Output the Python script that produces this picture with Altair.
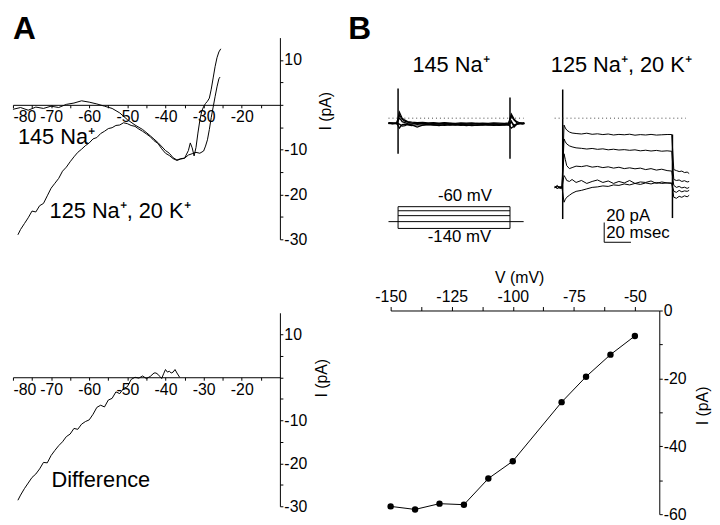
import altair as alt
import pandas as pd

FONT = "Liberation Sans"
W, H = 712, 517

# ---------------- Panel A (top): I-V ramps ----------------
a_na_v = [-80, -78, -76, -74, -72, -70, -68, -66, -64, -62, -60, -58, -56, -54, -52, -50, -48, -46, -44, -42,
          -40, -39, -38, -37, -36, -35, -34, -33.5, -33, -32.5, -32, -31.5, -31, -30.5, -30, -29.5, -29, -28.5,
          -28, -27.5, -27, -26.5, -26, -25.5]
a_na_i = [-1.0, -0.6, -1.2, -0.5, -0.8, -0.3, -0.6, 0.1, 0.4, 0.9, 0.6, 0.2, -0.3, -0.8, -1.8, -3.3, -4.5, -5.5,
          -6.9, -8.4, -10.2, -10.8, -11.8, -12.3, -12.0, -11.9, -10.2, -8.5, -9.6, -11.4, -9.5, -6.3, -3.5, -1.4,
          -0.4, 0.3, 0.8, 1.5, 3.5, 6.0, 8.5, 10.5, 11.8, 12.5]

a_k_v = [-78.7, -78, -77, -76, -75, -74, -73, -72, -71, -70, -69, -68, -67, -66, -65, -64, -63, -62, -61, -60,
         -59, -58, -57, -56, -55, -54, -53, -52, -51, -50, -49, -48, -47, -46, -45, -44, -43, -42, -41, -40,
         -39, -38, -37, -36, -35, -34, -33, -32, -31, -30, -29.5, -29, -28.5, -28, -27.5, -27, -26.5, -26, -25.7]
a_k_i = [-29.0, -27.8, -26.5, -25.2, -23.7, -23.9, -22.5, -22.0, -20.3, -18.6, -17.5, -16.4, -14.8, -13.9, -12.7,
         -11.6, -10.6, -9.9, -9.1, -8.5, -7.6, -7.3, -6.4, -5.9, -5.3, -5.1, -4.6, -4.5, -4.0, -4.2, -4.6, -4.8,
         -5.4, -5.9, -6.5, -7.1, -8.0, -8.6, -9.8, -10.8, -11.3, -12.0, -12.4, -12.1, -11.9, -11.2, -10.9, -10.6,
         -10.8, -10.3, -9.2, -7.8, -5.5, -2.8, -0.5, 1.8, 4.0, 5.8, 6.2]

# ---------------- Panel A (bottom): difference ----------------
diff_v = [-78.7, -78, -77, -76, -75, -74, -73, -72, -71, -70, -69, -68, -67, -66, -65, -64, -63, -62, -61, -60,
          -59, -58, -57, -56, -55, -54, -53, -52, -51, -50, -49, -48, -47, -46, -45, -44, -43, -42.5, -42, -41.5,
          -41, -40.5, -40, -39.5, -39, -38.5, -38, -37.5, -37, -36.5, -36.3]
diff_i = [-28.6, -27.4, -25.9, -24.6, -23.3, -22.5, -21.3, -19.8, -19.9, -18.2, -17.0, -15.9, -15.0, -13.8, -13.2,
          -11.9, -12.1, -10.9, -10.3, -9.9, -8.6, -7.0, -6.5, -6.9, -5.3, -4.9, -3.4, -3.8, -2.6, -2.2, -0.5, 0.0,
          -0.2, 0.3, -0.3, 0.2, 1.0, 1.0, 0.7, 0.2, -0.3, 0.8, 1.8, 1.2, 1.4, 1.0, 1.2, 1.8, 1.0, 0.3, 0.0]

# ---------------- Panel B (bottom): steady-state I-V ----------------
iv_v = [-150, -140, -130, -120, -110, -100, -80, -70, -60, -50]
iv_i = [-57.7, -58.6, -56.9, -57.2, -49.5, -44.4, -27.0, -19.5, -13.0, -7.5]

# ---------------- Panel B (top): current traces ----------------
b1_t = [-7, -4, -1, 1, 2, 3, 5, 7, 10, 14, 18, 22, 26, 30, 34, 38, 42, 46, 50, 54, 58, 62, 66, 70, 74, 78, 81,
        83, 85, 87, 89, 91, 92.5]
b1_tr1 = [-5.0, -5.5, -4.8, 3.0, 1.0, -1.0, -3.0, -4.0, -5.0, -5.5, -5.0, -6.0, -5.2, -5.8, -5.0, -5.6, -6.2, -5.4,
          -5.8, -6.0, -5.2, -5.9, -6.3, -5.5, -6.0, -5.8, -5.4, 2.0, -2.0, -4.5, -5.0, -5.6, -5.2]
b1_tr2 = [-4.5, -5.0, -5.2, -10.0, -8.0, -6.5, -6.0, -6.8, -7.5, -6.5, -7.0, -6.2, -6.8, -7.4, -6.5, -7.0, -6.6,
          -7.2, -6.8, -7.5, -6.9, -7.1, -6.6, -7.3, -6.8, -7.0, -6.5, -10.0, -8.0, -6.0, -5.5, -5.0, -5.4]
b1_tr3 = [-5.5, -4.8, -5.3, 0.0, -1.5, -3.5, -4.5, -5.5, -6.0, -5.0, -5.8, -5.5, -6.2, -5.6, -6.0, -5.2, -5.8,
          -6.4, -5.9, -5.5, -6.1, -5.7, -6.2, -5.8, -6.4, -5.9, -6.2, -4.0, -7.0, -5.8, -5.2, -5.8, -5.0]
b1_tr4 = [-5.2, -5.8, -5.0, -6.0, -7.0, -8.0, -7.5, -6.0, -6.8, -9.0, -7.0, -6.5, -7.0, -6.8, -7.2, -6.4, -7.0,
          -6.6, -7.4, -6.8, -7.2, -6.6, -7.0, -6.8, -7.3, -6.6, -7.0, -3.0, -9.0, -6.0, -5.6, -5.2, -5.8]
b1_tr5 = [-4.8, -5.2, -5.6, 6.0, 3.0, 0.0, -2.0, -3.5, -4.0, -4.5, -4.2, -4.8, -4.4, -5.0, -4.6, -4.9, -5.2, -4.7,
          -5.1, -4.8, -5.3, -4.9, -5.2, -4.7, -5.0, -5.3, -4.8, 4.0, -1.0, -3.5, -4.6, -5.0, -4.5]

b2_t = [-6, -4, -2, -0.5, 1, 2, 3, 5, 7, 10, 14, 18, 22, 26, 30, 34, 38, 42, 46, 50, 54, 58, 62, 66, 70, 74, 78,
        81.5, 83, 85, 87, 89, 91, 93, 94.5]
b2_tr1 = [-70, -68, -71, -69, -7, -10, -12, -14, -15, -15.5, -16, -15.2, -16.3, -15.8, -16.6, -16.0, -17.0, -16.4,
          -16.8, -16.2, -17.2, -16.6, -17.0, -16.4, -17.1, -16.8, -16.5, -16.5, -52, -53, -54, -53.5, -55, -54.5, -56]
b2_tr2 = [-70.5, -69, -70, -71, -21, -24, -26, -28, -29, -30, -30.5, -31.2, -30.6, -31.5, -31.0, -32.0, -31.4,
          -32.2, -31.8, -32.5, -32.0, -33.0, -32.4, -33.2, -32.6, -33.4, -33.0, -33.5, -62, -63, -62.5, -64, -63.2,
          -64.5, -64]
b2_tr3 = [-69, -71, -70, -69.5, -36, -42, -48, -51, -50, -48.5, -49, -48, -49.5, -48.8, -50, -49.2, -50.5, -49.6,
          -51, -50.2, -51.2, -50.5, -52, -51.0, -52.5, -51.6, -53, -53.5, -68, -70, -69, -70.5, -69.8, -71, -70]
b2_tr4 = [-70, -69, -71, -70, -58, -60, -63, -64, -62, -65, -63, -66, -64, -62.5, -65, -63.5, -66, -64, -65.5, -63,
          -66, -64.5, -65, -63.5, -66, -64.5, -65.5, -65.5, -74, -75, -73, -74.5, -73.5, -74, -73]
b2_tr5 = [-69.5, -71, -69, -70.5, -85, -82, -80, -78, -76, -74, -73, -71.5, -70, -69.5, -68.5, -69, -67.5, -68,
          -66.5, -67.5, -66, -67, -65.5, -66.5, -65, -66, -65.5, -66, -80, -81, -79, -80, -78.5, -79.5, -78]

# capacitive transients (time, top, bottom)
b1_spike_t = [0, 82]
b1_spike_top = [30, 21]
b1_spike_bot = [-36, -41]
b2_spike_t = [0, 82]
b2_spike_top = [29, -16.5]
b2_spike_bot = [-102, -101]

# zero-current dotted lines (t start, t end)
b1_zero = [-7, 92]
b2_zero = [-6, 92]

# voltage protocol (mV)
step_levels = [-60, -75, -93, -140]
hold_level = -115
step_on, step_off = 0, 82
hold_span = [-7, 92]

# scale bar: 20 pA / 20 msec
bar_t0, bar_t1 = 31, 51
bar_i0, bar_i1 = -105.5, -125.5


def sc(domain, rng):
    return alt.Scale(domain=domain, range=rng, nice=False, zero=False)


XA = sc([-80, -10], [5, 275])
YA_TOP = sc([-30, 15], [231, 27])
YA_BOT = sc([-30, 15], [501, 305.3])
XB = sc([-150, -40], [387, 658.7])
YB = sc([-60, 0], [509, 303])
XT1 = sc([0, 82], [394.5, 507.7])
XT2 = sc([0, 82], [561, 672])
YT = sc([-110, 30], [218.5, 78.5])
YP = sc([-140, -60], [220, 198])


def axis(**kw):
    base = dict(grid=False, domainColor="black", tickColor="black", labelColor="black", labelFont=FONT,
                labelFontSize=16, titleFont=FONT, titleFontSize=16, titleFontWeight="normal", titleColor="black",
                labelOverlap=False, labelFlush=False, domainWidth=1, tickWidth=1, tickSize=3, labelPadding=1)
    base.update(kw)
    return alt.Axis(**base)


def lab(mod, skip_zero=False):
    cond = f"datum.value % {mod} == 0" + (" && datum.value != 0" if skip_zero else "")
    return f"{cond} ? (datum.value < 0 ? '-' + abs(datum.value) : '' + datum.value) : ''"


def text(x, y, txt, xs, ys, size=22, align="left", baseline="middle", weight="normal", dx=0, dy=0):
    df = pd.DataFrame({"x": [x], "y": [y], "t": [txt]})
    return alt.Chart(df).mark_text(font=FONT, fontSize=size, align=align, baseline=baseline, fontWeight=weight,
                                   color="black", dx=dx, dy=dy).encode(
        x=alt.X("x:Q", scale=xs, axis=None), y=alt.Y("y:Q", scale=ys, axis=None), text="t:N")


def long(t, traces):
    rows = []
    for k, tr in enumerate(traces):
        for tt, v in zip(t, tr):
            rows.append({"t": tt, "i": v, "s": k})
    return pd.DataFrame(rows)


layers = []

# --- A top ---
df_a = pd.DataFrame({"v": a_na_v + a_k_v, "i": a_na_i + a_k_i,
                     "s": ["na"] * len(a_na_v) + ["k"] * len(a_k_v)})
layers.append(alt.Chart(df_a).mark_line(color="black", strokeWidth=1).encode(
    x=alt.X("v:Q", scale=XA, axis=axis(orient="bottom", offset=-422, values=list(range(-80, -10, 5)),
                                         labelExpr=lab(10), title=None, labelFlush=True)),
    y=alt.Y("i:Q", scale=YA_TOP, axis=axis(orient="right", offset=-437, values=list(range(-30, 11, 5)),
                                             labelExpr=lab(10, True), title="I (pA)", titleAngle=270,
                                             titleBaseline="top", titlePadding=11, titleY=101)),
    detail="s:N"))
layers.append(text(-78.7, -7.3, "145 Na\u207a", XA, YA_TOP))
layers.append(text(-70.4, -23.8, "125 Na\u207a, 20 K\u207a", XA, YA_TOP))
layers.append(text(-80, 20.2, "A", XA, YA_TOP, size=32, weight="bold", baseline="top"))
layers.append(text(7.9, 20.2, "B", XA, YA_TOP, size=32, weight="bold", baseline="top"))

# --- A bottom ---
df_d = pd.DataFrame({"v": diff_v, "i": diff_i})
layers.append(alt.Chart(df_d).mark_line(color="black", strokeWidth=1).encode(
    x=alt.X("v:Q", scale=XA, axis=axis(orient="bottom", offset=-146.5, values=list(range(-80, -10, 5)),
                                         labelExpr=lab(10), title=None, labelFlush=True)),
    y=alt.Y("i:Q", scale=YA_BOT, axis=axis(orient="right", offset=-437, values=list(range(-30, 11, 5)),
                                             labelExpr=lab(10, True), title="I (pA)", titleAngle=270,
                                             titleBaseline="top", titlePadding=7, titleY=371))))
layers.append(text(-69.9, -23.8, "Difference", XA, YA_BOT))

# --- B bottom ---
df_iv = pd.DataFrame({"v": iv_v, "i": iv_i})
layers.append(alt.Chart(df_iv).mark_line(color="black", strokeWidth=1).encode(
    x=alt.X("v:Q", scale=XB, axis=axis(orient="top", offset=-303, values=[-150 + 12.5 * k for k in range(9)],
                                         labelExpr=lab(25), title="V (mV)", titlePadding=3, titleX=517,
                                         tickSize=4, labelPadding=2)),
    y=alt.Y("i:Q", scale=YB, axis=axis(orient="right", offset=-53.3, values=list(range(-60, 1, 10)),
                                         labelExpr=lab(20), title="I (pA)", titleAngle=270, titleBaseline="top",
                                         titlePadding=9, titleY=399))))
layers.append(alt.Chart(df_iv).mark_circle(color="black", size=42, opacity=1).encode(
    x=alt.X("v:Q", scale=XB, axis=None), y=alt.Y("i:Q", scale=YB, axis=None)))

# --- B top: traces ---
df_b1 = long(b1_t, [b1_tr1, b1_tr2, b1_tr3, b1_tr4, b1_tr5])
layers.append(alt.Chart(df_b1).mark_line(color="black", strokeWidth=1.3).encode(
    x=alt.X("t:Q", scale=XT1, axis=None), y=alt.Y("i:Q", scale=YT, axis=None), detail="s:N"))
df_b2 = long(b2_t, [b2_tr1, b2_tr2, b2_tr3, b2_tr4, b2_tr5])
layers.append(alt.Chart(df_b2).mark_line(color="black", strokeWidth=1).encode(
    x=alt.X("t:Q", scale=XT2, axis=None), y=alt.Y("i:Q", scale=YT, axis=None), detail="s:N"))

df_s1 = pd.DataFrame({"t": b1_spike_t, "a": b1_spike_top, "b": b1_spike_bot})
layers.append(alt.Chart(df_s1).mark_rule(color="black", strokeWidth=1.5).encode(
    x=alt.X("t:Q", scale=XT1, axis=None), y=alt.Y("a:Q", scale=YT, axis=None), y2="b:Q"))
df_s2 = pd.DataFrame({"t": b2_spike_t, "a": b2_spike_top, "b": b2_spike_bot})
layers.append(alt.Chart(df_s2).mark_rule(color="black", strokeWidth=1.5).encode(
    x=alt.X("t:Q", scale=XT2, axis=None), y=alt.Y("a:Q", scale=YT, axis=None), y2="b:Q"))

df_z1 = pd.DataFrame({"t0": [b1_zero[0]], "t1": [b1_zero[1]], "i": [0]})
layers.append(alt.Chart(df_z1).mark_rule(color="#444", strokeWidth=1, strokeDash=[1, 3]).encode(
    x=alt.X("t0:Q", scale=XT1, axis=None), x2="t1:Q", y=alt.Y("i:Q", scale=YT, axis=None)))
df_z2 = pd.DataFrame({"t0": [b2_zero[0]], "t1": [b2_zero[1]], "i": [0]})
layers.append(alt.Chart(df_z2).mark_rule(color="#444", strokeWidth=1, strokeDash=[1, 3]).encode(
    x=alt.X("t0:Q", scale=XT2, axis=None), x2="t1:Q", y=alt.Y("i:Q", scale=YT, axis=None)))

# voltage protocol
df_steps = pd.DataFrame({"t0": [step_on] * len(step_levels) + [hold_span[0]],
                         "t1": [step_off] * len(step_levels) + [hold_span[1]],
                         "v": step_levels + [hold_level]})
layers.append(alt.Chart(df_steps).mark_rule(color="black", strokeWidth=1).encode(
    x=alt.X("t0:Q", scale=XT1, axis=None), x2="t1:Q", y=alt.Y("v:Q", scale=YP, axis=None)))
df_edges = pd.DataFrame({"t": [step_on, step_off], "a": [max(step_levels)] * 2, "b": [min(step_levels)] * 2})
layers.append(alt.Chart(df_edges).mark_rule(color="black", strokeWidth=1).encode(
    x=alt.X("t:Q", scale=XT1, axis=None), y=alt.Y("a:Q", scale=YP, axis=None), y2="b:Q"))
layers.append(text(49, -60, "-60 mV", XT1, YP, size=17, align="center", baseline="bottom", dy=-2))
layers.append(text(45, -140, "-140 mV", XT1, YP, size=17, align="center", baseline="top", dy=1))

# scale bar
df_bar_v = pd.DataFrame({"t": [bar_t0], "a": [bar_i0], "b": [bar_i1]})
layers.append(alt.Chart(df_bar_v).mark_rule(color="black", strokeWidth=1).encode(
    x=alt.X("t:Q", scale=XT2, axis=None), y=alt.Y("a:Q", scale=YT, axis=None), y2="b:Q"))
df_bar_h = pd.DataFrame({"t0": [bar_t0], "t1": [bar_t1], "i": [bar_i1]})
layers.append(alt.Chart(df_bar_h).mark_rule(color="black", strokeWidth=1).encode(
    x=alt.X("t0:Q", scale=XT2, axis=None), x2="t1:Q", y=alt.Y("i:Q", scale=YT, axis=None)))
layers.append(text(bar_t0 + 1.5, -98.5, "20 pA", XT2, YT, size=17))
layers.append(text(bar_t0 + 1.5, -116.5, "20 msec", XT2, YT, size=17))

# titles of trace panels
layers.append(text(10.5, 53.5, "145 Na\u207a", XT1, YT))
layers.append(text(-8.9, 53.5, "125 Na\u207a, 20 K\u207a", XT2, YT))

chart = alt.layer(*layers).resolve_scale(x="independent", y="independent").resolve_axis(
    x="independent", y="independent").properties(
    width=W, height=H, autosize=alt.AutoSizeParams(type="none"), padding=0).configure_view(stroke=None)

chart.save("out.html", embed_options={"renderer": "svg", "actions": False})
